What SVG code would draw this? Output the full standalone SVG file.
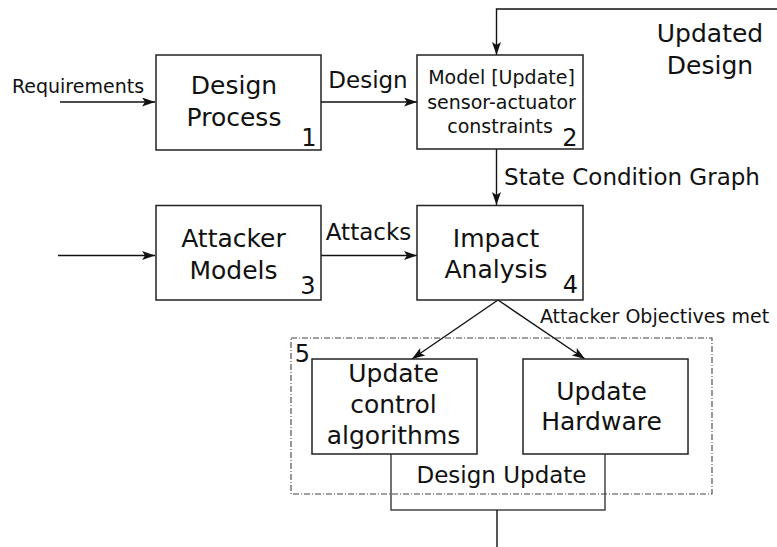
<svg xmlns="http://www.w3.org/2000/svg" width="777" height="547" viewBox="0 0 777 547">
<style>
.box{fill:#fff;stroke:#222;stroke-width:1.5}
.t{font-family:"DejaVu Sans",sans-serif;fill:#111;text-anchor:middle}
.b{font-size:25px}
.s{font-size:19px}
.l{font-size:23px}
.c{fill:none;stroke:#111;stroke-width:1.4}
.g{fill:none;stroke:#444;stroke-width:1.5}
</style>
<defs>
<marker id="ah" viewBox="0 0 13 9" refX="13" refY="4.5" markerWidth="13" markerHeight="9" markerUnits="userSpaceOnUse" orient="auto">
<path d="M0,0 L13,4.5 L0,9 L3,4.5 Z" fill="#111"/>
</marker>
</defs>
<g id="connectors">
<line class="c" x1="60" y1="102" x2="155" y2="102" marker-end="url(#ah)"/>
<line class="c" x1="321" y1="102" x2="417" y2="102" marker-end="url(#ah)"/>
<polyline class="c" points="777,9 496.5,9 496.5,55" marker-end="url(#ah)"/>
<line class="c" x1="496.5" y1="149" x2="496.5" y2="205" marker-end="url(#ah)"/>
<line class="c" x1="58" y1="255.5" x2="155" y2="255.5" marker-end="url(#ah)"/>
<line class="c" x1="321" y1="255.5" x2="417" y2="255.5" marker-end="url(#ah)"/>
<line class="c" x1="498" y1="300" x2="412" y2="359" marker-end="url(#ah)"/>
<line class="c" x1="498" y1="300" x2="585" y2="359" marker-end="url(#ah)"/>
<polyline class="g" points="391,454 391,510 605,510 605,454"/>
<line class="c" x1="497" y1="510" x2="497" y2="547"/>
<text class="t" x="78" y="92.5" style="font-size:19px">Requirements</text>
<text class="t l" x="368" y="88">Design</text>
<text class="t l" x="632" y="185">State Condition Graph</text>
<text class="t l" x="368.5" y="240">Attacks</text>
<text class="t s" x="654.5" y="323">Attacker Objectives met</text>
<text class="t b" x="710" y="42">Updated</text>
<text class="t b" x="710" y="74">Design</text>
<text class="t l" x="501.5" y="483">Design Update</text>
</g>
<g id="node1">
<rect class="box" x="156" y="55" width="165" height="95"/>
<text class="t b" x="234" y="94">Design</text>
<text class="t b" x="234" y="126">Process</text>
<text class="t" x="309" y="145.5" style="font-size:24px">1</text>
</g>
<g id="node2">
<rect class="box" x="417" y="55" width="166" height="94"/>
<text class="t s" x="501.5" y="84">Model [Update]</text>
<text class="t s" x="501.5" y="108.5">sensor-actuator</text>
<text class="t s" x="500" y="133">constraints</text>
<text class="t" x="570" y="145.5" style="font-size:24px">2</text>
</g>
<g id="node3">
<rect class="box" x="156" y="205.5" width="165" height="94.5"/>
<text class="t b" x="233.5" y="247">Attacker</text>
<text class="t b" x="233.5" y="279">Models</text>
<text class="t" x="308" y="294" style="font-size:24px">3</text>
</g>
<g id="node4">
<rect class="box" x="417" y="205.5" width="166" height="94.5"/>
<text class="t b" x="496" y="247">Impact</text>
<text class="t b" x="496" y="278">Analysis</text>
<text class="t" x="570.5" y="293" style="font-size:24px">4</text>
</g>
<g id="group5">
<rect x="291" y="338" width="421" height="156" fill="none" stroke="#444" stroke-width="1.1" stroke-dasharray="6,2,1,2"/>
<text class="t" x="302.5" y="362" style="font-size:24px">5</text>
</g>
<g id="node5a">
<rect class="box" x="312" y="359" width="165" height="95"/>
<text class="t b" x="393.5" y="382">Update</text>
<text class="t b" x="393.5" y="413">control</text>
<text class="t b" x="393.5" y="444">algorithms</text>
</g>
<g id="node5b">
<rect class="box" x="523" y="359" width="165" height="95"/>
<text class="t b" x="601.5" y="400">Update</text>
<text class="t b" x="601.5" y="430">Hardware</text>
</g>
</svg>
